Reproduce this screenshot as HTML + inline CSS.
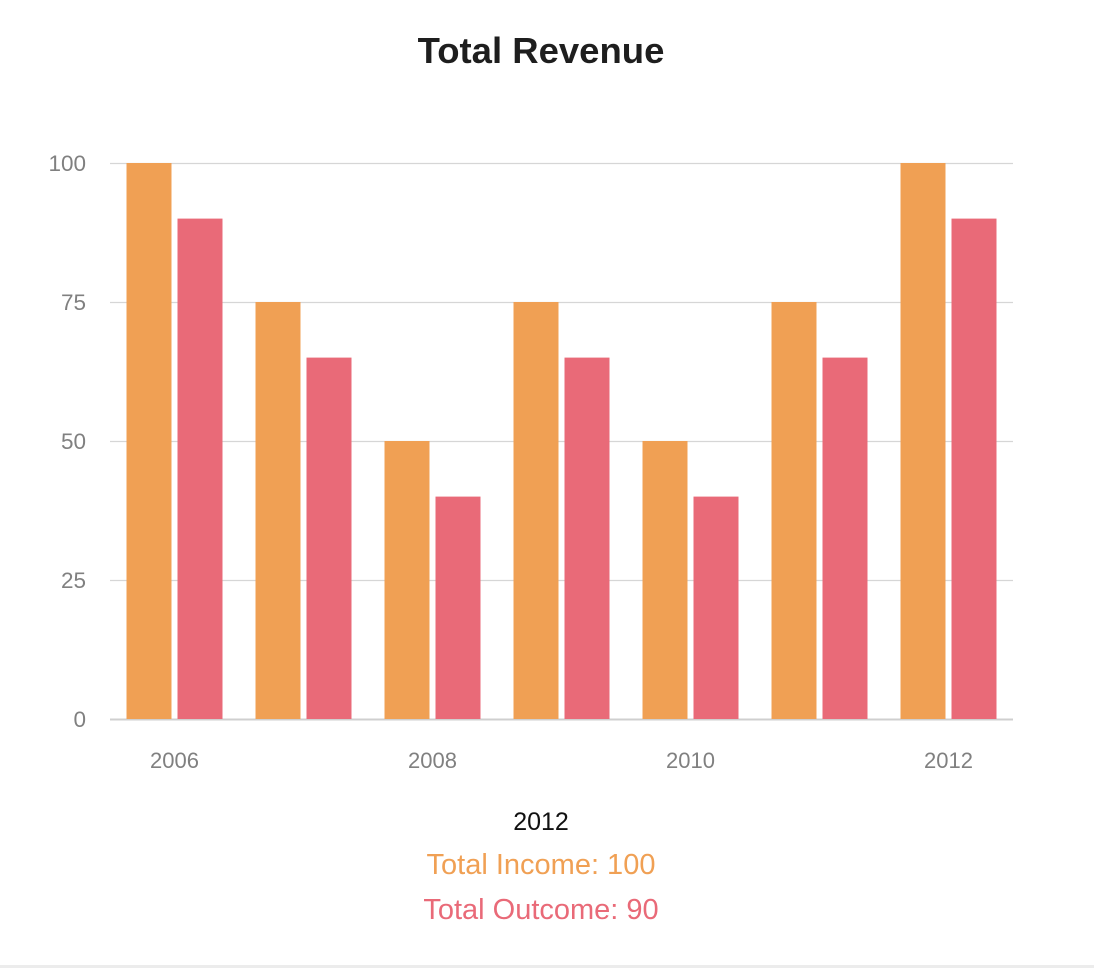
<!DOCTYPE html>
<html><head><meta charset="utf-8">
<style>
html,body{margin:0;padding:0;background:#fff;}
body{width:1094px;height:968px;position:relative;overflow:hidden;font-family:"Liberation Sans",sans-serif;}
#bottom-rule{position:absolute;left:0;top:965px;width:1094px;height:3px;background:#ececec;}
</style></head>
<body>
<svg id="chart" width="1094" height="968" style="position:absolute;left:0;top:0">
<text x="541" y="63" text-anchor="middle" font-size="36.5" font-weight="bold" fill="#1e1e1e">Total Revenue</text>
<g id="grid"></g><g id="bars"></g><g id="xlabels"></g>
<text x="541" y="830" text-anchor="middle" font-size="25" fill="#111">2012</text>
<text x="541" y="874" text-anchor="middle" font-size="29" fill="#f0a054">Total Income: 100</text>
<text x="541" y="919" text-anchor="middle" font-size="29" fill="#e96a78">Total Outcome: 90</text>
</svg>
<div id="bottom-rule"></div>
<script>
const categories = ["2006","2007","2008","2009","2010","2011","2012"];
const income = [100,75,50,75,50,75,100];
const outcome = [90,65,40,65,40,65,90];
const yTicks = [0,25,50,75,100];
const xTickLabels = ["2006","","2008","","2010","","2012"];

const NS="http://www.w3.org/2000/svg";
const x0=110,x1=1013,yTop=163,yBot=719,yMax=100;
const band=(x1-x0)/categories.length;
function y(v){return yBot-(v/yMax)*(yBot-yTop);}
function xc(i){return x0+band*(i+0.5);}
function mk(tag,attrs,parent){const e=document.createElementNS(NS,tag);for(const k in attrs)e.setAttribute(k,attrs[k]);parent.appendChild(e);return e;}
const grid=document.getElementById('grid'),bars=document.getElementById('bars'),xl=document.getElementById('xlabels');
yTicks.forEach(t=>{
  const l=mk('line',{x1:x0,x2:x1,y1:y(t)+0.5,y2:y(t)+0.5,stroke:t===0?'#cfcfcf':'#d6d6d6','stroke-width':t===0?2:1.3},grid);
  
  
  const tx=mk('text',{x:86,y:y(t)+8,'text-anchor':'end','font-size':22.5,fill:'#808080'},grid);
  tx.textContent=t;
  
  
});
const bw=45,gap=6;
categories.forEach((c,i)=>{
  const cx=xc(i);
  const r1=mk('rect',{x:cx-gap/2-bw,y:y(income[i]),width:bw,height:yBot-y(income[i]),fill:'#f0a054'},bars);
  
  
  const r2=mk('rect',{x:cx+gap/2,y:y(outcome[i]),width:bw,height:yBot-y(outcome[i]),fill:'#e96a78'},bars);
  
  
  if(xTickLabels[i]){
    const t=mk('text',{x:cx,y:768,'text-anchor':'middle','font-size':22,fill:'#808080'},xl);
    t.textContent=xTickLabels[i];
    
    
  }
});
</script>
</body></html>
